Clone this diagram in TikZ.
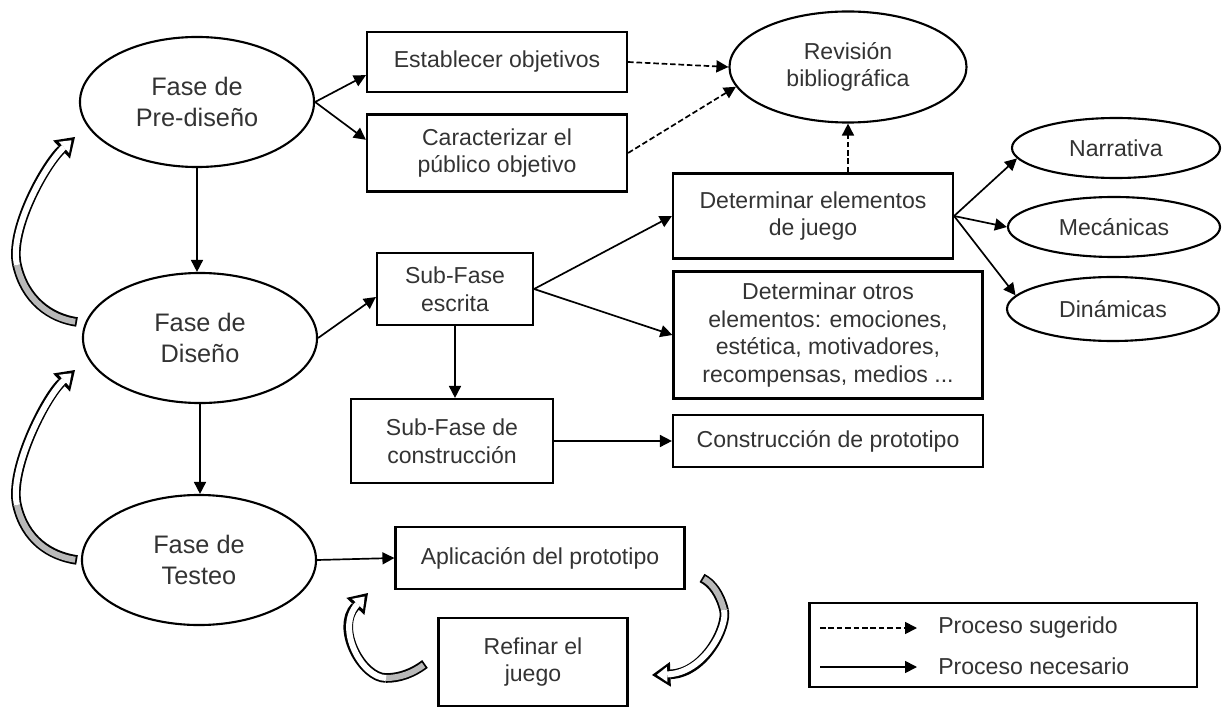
\documentclass[tikz,border=0pt]{standalone}
\usepackage{fontspec}
\setmainfont{Liberation Sans}
\usetikzlibrary{shapes.geometric,arrows.meta}

\tikzset{
	fase/.style={ellipse, draw, line width=1.5pt, minimum width=5.85cm, minimum height=3.25cm, inner sep=0pt, align=center, text=black!80, font=\fontsize{18}{21.5}\selectfont},
	caja/.style={rectangle, draw, line width=1.5pt, inner sep=0pt, align=center, text=black!80, font=\fontsize{16.4}{19.6}\selectfont},
	elipse/.style={ellipse, draw, line width=1.5pt, inner sep=0pt, align=center, text=black!80, font=\fontsize{16.4}{19.6}\selectfont},
	etiqueta/.style={inner sep=0pt, anchor=west, text=black!80, font=\fontsize{16.4}{19.6}\selectfont},
	flecha/.style={line width=1.2pt, -{Triangle[length=3mm,width=3mm]}},
	sugerido/.style={flecha, dash pattern=on 1.4mm off 0.7mm},
	borde/.style={line width=2.4mm, -{Triangle[length=4.6mm,width=6.2mm,line width=0pt]}},
	hueco/.style={line width=1.5mm, white, shorten >=1.2mm, -{Triangle[length=2.6mm,width=3.8mm,line width=0pt]}},
	bordecola/.style={line width=2.4mm},
	cola/.style={line width=1.5mm, gray!55, shorten <=0.45mm}
}

\begin{document}
\begin{tikzpicture}[x=0.025cm, y=-0.025cm]
	\useasboundingbox (0,0) rectangle (1223,722) ;

	\node[fase] (pre) at (197,102) {Fase de\\Pre-diseño} ;
	\node[fase] (dis) at (200,338) {Fase de\\Diseño} ;
	\node[fase] (tes) at (199,560) {Fase de\\Testeo} ;

	\node[caja, minimum width=6.5cm, minimum height=1.5cm] (obj) at (497,62) {Establecer objetivos} ;
	\node[caja, minimum width=6.5cm, minimum height=1.925cm] (pub) at (497,153) {Caracterizar el\\público objetivo} ;
	\node[elipse, minimum width=5.925cm, minimum height=2.775cm] (rev) at (848,67) {Revisión\\bibliográfica} ;
	\node[caja, minimum width=7cm, minimum height=2.125cm] (elem) at (813,216) {Determinar elementos\\de juego} ;
	\node[elipse, minimum width=5.2cm, minimum height=1.5cm] (nar) at (1116,148) {Narrativa} ;
	\node[elipse, minimum width=5.3cm, minimum height=1.5cm] (mec) at (1114,227) {Mecánicas} ;
	\node[elipse, minimum width=5.3cm, minimum height=1.6cm] (din) at (1113,309) {Dinámicas} ;
	\node[caja, minimum width=3.9cm, minimum height=1.8cm] (esc) at (455,289) {Sub-Fase\\escrita} ;
	\node[caja, minimum width=7.725cm, minimum height=3.175cm] (otros) at (828,335) {Determinar otros\\elementos: emociones,\\estética, motivadores,\\recompensas, medios ...} ;
	\node[caja, minimum width=5.05cm, minimum height=2.1cm] (cons) at (452,441) {Sub-Fase de\\construcción} ;
	\node[caja, minimum width=7.75cm, minimum height=1.3cm] (proto) at (828,441) {Construcción de prototipo} ;
	\node[caja, minimum width=7.225cm, minimum height=1.55cm] (apl) at (540,558) {Aplicación del prototipo} ;
	\node[caja, minimum width=4.725cm, minimum height=2.2cm] (ref) at (533,662) {Refinar el\\juego} ;

	\draw [flecha] (pre.east) -- ([yshift=-0.33cm]obj.west) ;
	\draw [flecha] (pre.east) -- ([yshift=0.33cm]pub.west) ;
	\draw [sugerido] (obj.east) -- (rev.west) ;
	\draw [sugerido] (pub.east) -- (rev.190) ;
	\draw [sugerido] (rev.south |- elem.north) -- (rev.south) ;
	\draw [flecha] (elem.east) -- (nar.186) ;
	\draw [flecha] (elem.east) -- (mec.west) ;
	\draw [flecha] (elem.east) -- (din.172) ;
	\draw [flecha] (pre.south) -- (pre.south |- dis.north) ;
	\draw [flecha] (dis.south) -- (dis.south |- tes.north) ;
	\draw [flecha] (dis.east) -- ([yshift=-0.2cm]esc.west) ;
	\draw [flecha] (esc.east) -- (elem.west) ;
	\draw [flecha] (esc.east) -- (otros.west) ;
	\draw [flecha] (esc.south) -- (esc.south |- cons.north) ;
	\draw [flecha] (cons.east) -- (proto.west) ;
	\draw [flecha] (tes.east) -- (apl.west) ;

	\coordinate (t1) at (77,322) ; \coordinate (m1) at (17,265) ; \coordinate (h1) at (75,137) ;
	\coordinate (t2) at (77,560) ; \coordinate (m2) at (17,505) ; \coordinate (h2) at (75,370) ;
	\coordinate (t3) at (425,664) ; \coordinate (m3) at (386,678) ; \coordinate (h3) at (368,593) ;
	\coordinate (t4) at (702,578) ; \coordinate (m4) at (724,610) ; \coordinate (h4) at (652,675) ;

	\draw [bordecola] (t1) .. controls (50,318) and (25,300) .. (m1) ;
	\draw [borde] (m1) .. controls (9,230) and (45,165) .. (h1) ;
	\draw [cola] (t1) .. controls (50,318) and (25,300) .. (m1) ;
	\draw [hueco] (m1) .. controls (9,230) and (45,165) .. (h1) ;

	\draw [bordecola] (t2) .. controls (50,556) and (25,540) .. (m2) ;
	\draw [borde] (m2) .. controls (9,470) and (45,398) .. (h2) ;
	\draw [cola] (t2) .. controls (50,556) and (25,540) .. (m2) ;
	\draw [hueco] (m2) .. controls (9,470) and (45,398) .. (h2) ;

	\draw [bordecola] (t3) .. controls (413,673) and (400,678) .. (m3) ;
	\draw [borde] (m3) .. controls (362,678) and (335,628) .. (h3) ;
	\draw [cola] (t3) .. controls (413,673) and (400,678) .. (m3) ;
	\draw [hueco] (m3) .. controls (362,678) and (335,628) .. (h3) ;

	\draw [bordecola] (t4) .. controls (712,583) and (720,594) .. (m4) ;
	\draw [borde] (m4) .. controls (728,626) and (705,673) .. (h4) ;
	\draw [cola] (t4) .. controls (712,583) and (720,594) .. (m4) ;
	\draw [hueco] (m4) .. controls (728,626) and (705,673) .. (h4) ;

	\node[caja, minimum width=9.675cm, minimum height=2.1cm] (ley) at (1003,645) {} ;
	\coordinate (s1) at (820,628) ; \coordinate (s2) at (917,628) ;
	\coordinate (n1) at (820,667) ; \coordinate (n2) at (917,667) ;
	\draw [sugerido] (s1) -- (s2) ;
	\draw [flecha] (n1) -- (n2) ;
	\node[etiqueta] (tsug) at (938,628) {Proceso sugerido} ;
	\node[etiqueta] (tnec) at (938,666) {Proceso necesario} ;
\end{tikzpicture}
\end{document}
